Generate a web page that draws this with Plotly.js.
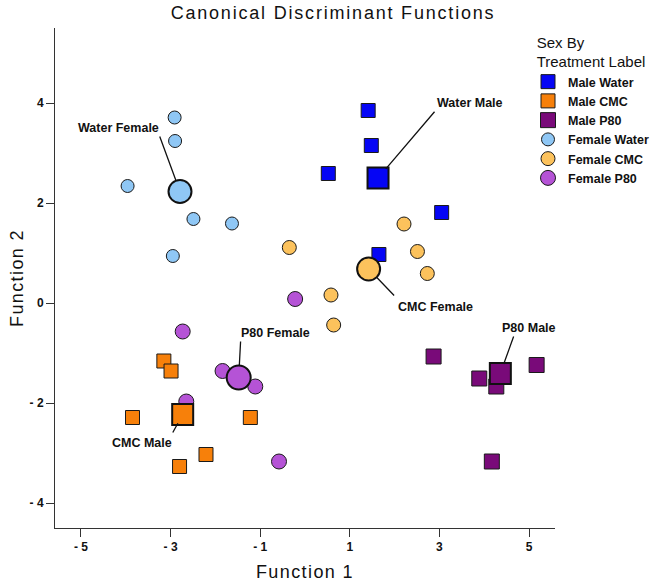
<!DOCTYPE html>
<html>
<head>
<meta charset="utf-8">
<script src="https://cdn.plot.ly/plotly-3.0.1.min.js"></script>
<style>
  html, body { margin: 0; padding: 0; background: #fff; }
  #chart { width: 666px; height: 585px; }
  .gtitle { letter-spacing: 1.8px; }
  .xtitle, .ytitle { letter-spacing: 1.4px; }
</style>
</head>
<body>
<div id="chart"></div>
<script>
// ---- data ----
const groupNames = ['Male Water', 'Male CMC', 'Male P80', 'Female Water', 'Female CMC', 'Female P80'];

const maleWaterX = [1.41, 1.48, 0.52, 3.05, 1.65];
const maleWaterY = [3.85, 3.15, 2.59, 1.81, 0.97];

const maleCmcX = [-3.15, -2.99, -3.85, -1.22, -2.21, -2.80];
const maleCmcY = [-1.16, -1.36, -2.29, -2.29, -3.03, -3.27];

const maleP80X = [2.87, 3.89, 4.27, 5.17, 4.17];
const maleP80Y = [-1.07, -1.51, -1.67, -1.24, -3.17];

const femaleWaterX = [-2.91, -2.90, -3.96, -2.49, -1.63, -2.95];
const femaleWaterY = [3.71, 3.24, 2.34, 1.68, 1.59, 0.94];

const femaleCmcX = [-0.35, 2.21, 2.51, 2.73, 0.58, 0.64];
const femaleCmcY = [1.11, 1.58, 1.03, 0.59, 0.16, -0.44];

const femaleP80X = [-0.22, -2.73, -1.84, -1.11, -2.65, -0.58];
const femaleP80Y = [0.08, -0.57, -1.36, -1.67, -1.97, -3.17];

// group centroids, same order as groupNames
const centroidX = [1.63, -2.73, 4.36, -2.79, 1.42, -1.48];
const centroidY = [2.50, -2.23, -1.41, 2.23, 0.68, -1.49];
const centroidLabels = ['Water Male', 'CMC Male', 'P80 Male', 'Water Female', 'CMC Female', 'P80 Female'];

const xTickVals = [-5, -3, -1, 1, 3, 5];
const xTickText = ['- 5', '- 3', '- 1', '1', '3', '5'];
const yTickVals = [-4, -2, 0, 2, 4];
const yTickText = ['- 4', '- 2', '0', '2', '4'];

// ---- styles ----
const colors = ['#0505F5', '#F7800A', '#790A79', '#8FC7F5', '#FCC25C', '#B553D6'];
const symbols = ['square', 'square', 'square', 'circle', 'circle', 'circle'];
const sizes = [14, 14, 15, 13, 14, 15];
const centroidSizes = [21, 21, 21, 23, 23, 24];

const xs = [maleWaterX, maleCmcX, maleP80X, femaleWaterX, femaleCmcX, femaleP80X];
const ys = [maleWaterY, maleCmcY, maleP80Y, femaleWaterY, femaleCmcY, femaleP80Y];

const traces = groupNames.map((name, i) => ({
  type: 'scatter',
  mode: 'markers',
  name: name,
  x: xs[i],
  y: ys[i],
  marker: { color: colors[i], symbol: symbols[i], size: sizes[i], opacity: 1, line: { color: '#1a1a1a', width: 1 } },
  hoverinfo: 'x+y+name'
}));

traces.push({
  type: 'scatter',
  mode: 'markers',
  name: 'Group Centroid',
  showlegend: false,
  x: centroidX,
  y: centroidY,
  text: centroidLabels,
  marker: { color: colors, symbol: symbols, size: centroidSizes, opacity: 1, line: { color: '#111', width: 2 } },
  hoverinfo: 'text'
});

// callout geometry (pixel offsets from each centroid): leader tail, standoff, label centre
const callouts = {
  'Water Male':   { ax: 58,  ay: -68, so: 12,  tx: 92,  ty: 75 },
  'CMC Male':     { ax: -11, ay: 20,  so: 10,  tx: -41, ty: -28 },
  'P80 Male':     { ax: 14,  ay: -39, so: 10,  tx: 29,  ty: 46 },
  'Water Female': { ax: -21, ay: -57, so: 11.5, tx: -62, ty: 64 },
  'CMC Female':   { ax: 27,  ay: 28,  so: 11.5, tx: 67,  ty: -38 },
  'P80 Female':   { ax: 2,   ay: -38, so: 12,  tx: 37,  ty: 45 }
};

const annotations = [];
centroidLabels.forEach((lab, i) => {
  const c = callouts[lab];
  annotations.push({
    xref: 'x', yref: 'y', x: centroidX[i], y: centroidY[i],
    text: ' ', showarrow: true, arrowhead: 0, arrowwidth: 1.3, arrowcolor: '#111',
    ax: c.ax, ay: c.ay, standoff: c.so, font: { size: 1 }
  });
  annotations.push({
    xref: 'x', yref: 'y', x: centroidX[i], y: centroidY[i],
    text: lab, showarrow: false, xshift: c.tx, yshift: c.ty,
    xanchor: 'center', yanchor: 'middle',
    font: { family: 'Liberation Sans, Arial, sans-serif', size: 12.5, color: '#111', weight: 'bold' }
  });
});

const axisCommon = {
  showgrid: false,
  zeroline: false,
  showline: true,
  linecolor: '#333',
  linewidth: 1,
  ticks: 'outside',
  ticklen: 8,
  tickwidth: 1,
  tickcolor: '#333',
  tickmode: 'array',
  automargin: false,
  tickfont: { family: 'Liberation Sans, Arial, sans-serif', size: 12, color: '#111', weight: 'bold' }
};

const layout = {
  width: 666,
  height: 585,
  margin: { l: 55, r: 111, t: 28, b: 57, autoexpand: false },
  paper_bgcolor: '#fff',
  plot_bgcolor: '#fff',
  font: { family: 'Liberation Sans, Arial, sans-serif', color: '#111' },
  title: {
    text: 'Canonical Discriminant Functions',
    x: 0.5, xref: 'container', xanchor: 'center',
    y: 0.978, yref: 'container', yanchor: 'middle',
    font: { family: 'Liberation Sans, Arial, sans-serif', size: 18, color: '#111' }
  },
  xaxis: Object.assign({}, axisCommon, {
    range: [-5.58, 5.58],
    tickvals: xTickVals,
    ticktext: xTickText,
    title: { text: 'Function 1', standoff: 11, font: { family: 'Liberation Sans, Arial, sans-serif', size: 18, color: '#111' } }
  }),
  yaxis: Object.assign({}, axisCommon, {
    range: [-4.5, 5.5],
    tickvals: yTickVals,
    ticktext: yTickText,
    title: { text: 'Function 2', standoff: 1, font: { family: 'Liberation Sans, Arial, sans-serif', size: 18, color: '#111' } }
  }),
  showlegend: true,
  legend: {
    x: 528 / 666, xref: 'container', xanchor: 'left',
    y: 1.0, yanchor: 'top',
    bgcolor: 'rgba(0,0,0,0)',
    borderwidth: 0,
    traceorder: 'normal',
    font: { family: 'Liberation Sans, Arial, sans-serif', size: 12.5, color: '#111', weight: 'bold' },
    title: {
      text: 'Sex By<br>Treatment Label',
      side: 'top center',
      font: { family: 'Liberation Sans, Arial, sans-serif', size: 15, color: '#111', weight: 'normal' }
    }
  },
  annotations: annotations,
  hovermode: 'closest'
};

Plotly.newPlot('chart', traces, layout, { displayModeBar: false, staticPlot: false });
</script>
</body>
</html>
